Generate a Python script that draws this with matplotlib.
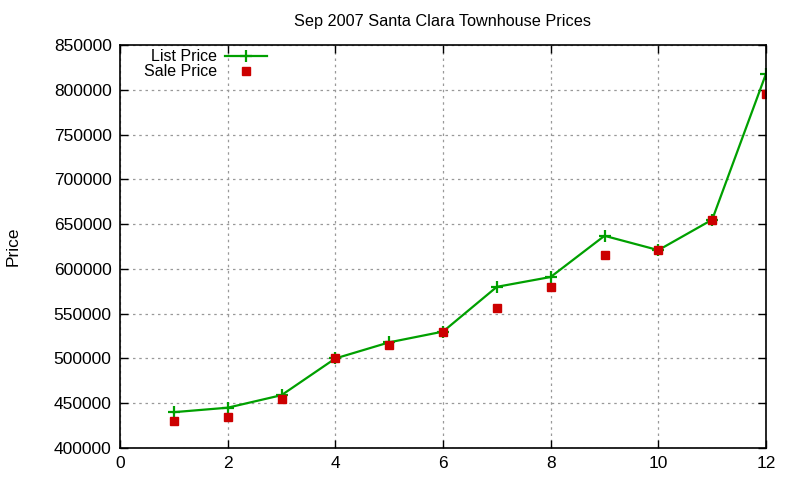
import numpy as np
import matplotlib
matplotlib.use('Agg')
import matplotlib.pyplot as plt

plt.rcParams['font.family'] = ['Liberation Sans', 'DejaVu Sans']

# data
months = [1, 2, 3, 4, 5, 6, 7, 8, 9, 10, 11, 12]
list_price = [440000, 445000, 459000, 500000, 518000, 530000,
              580000, 591000, 637000, 621000, 655000, 818000]
sale_price = [430000, 435000, 455000, 500000, 515000, 530000,
              556000, 580000, 616000, 621000, 655000, 795000]

fig = plt.figure(figsize=(8, 4.8), dpi=100)
ax = fig.add_axes([0.15, 0.0667, 0.8075, 0.8393])

ax.plot(months, list_price, color='#00a000', lw=1.6, marker='+',
        markersize=9, markeredgewidth=1.6, label='List Price')
ax.plot(months, sale_price, color='#cc0000', lw=0, marker='s',
        markersize=6, label='Sale Price')

ax.set_xlim(0, 12)
ax.set_ylim(400000, 850000)
ax.set_xticks(np.arange(0, 13, 2))
ax.set_yticks(np.arange(400000, 850001, 50000))
ax.tick_params(direction='in', top=True, right=True, labelsize=12.5, length=6,
               width=1, pad=6)
ax.grid(True, color='#999999', linestyle=(0, (2, 3)), lw=0.9)
for s in ax.spines.values():
    s.set_linewidth(1.2)

ax.set_title('Sep 2007 Santa Clara Townhouse Prices', fontsize=11.7, pad=14)
ax.set_ylabel('Price', fontsize=12.5)
ax.yaxis.set_label_coords(-0.154, 0.5)

ax.legend(loc='upper right', frameon=False, markerfirst=False, fontsize=11.5,
          handlelength=2.6, borderaxespad=0.0, labelspacing=0.0,
          bbox_to_anchor=(0.237, 1.005), handletextpad=0.5)

fig.savefig('out.png', dpi=100)
